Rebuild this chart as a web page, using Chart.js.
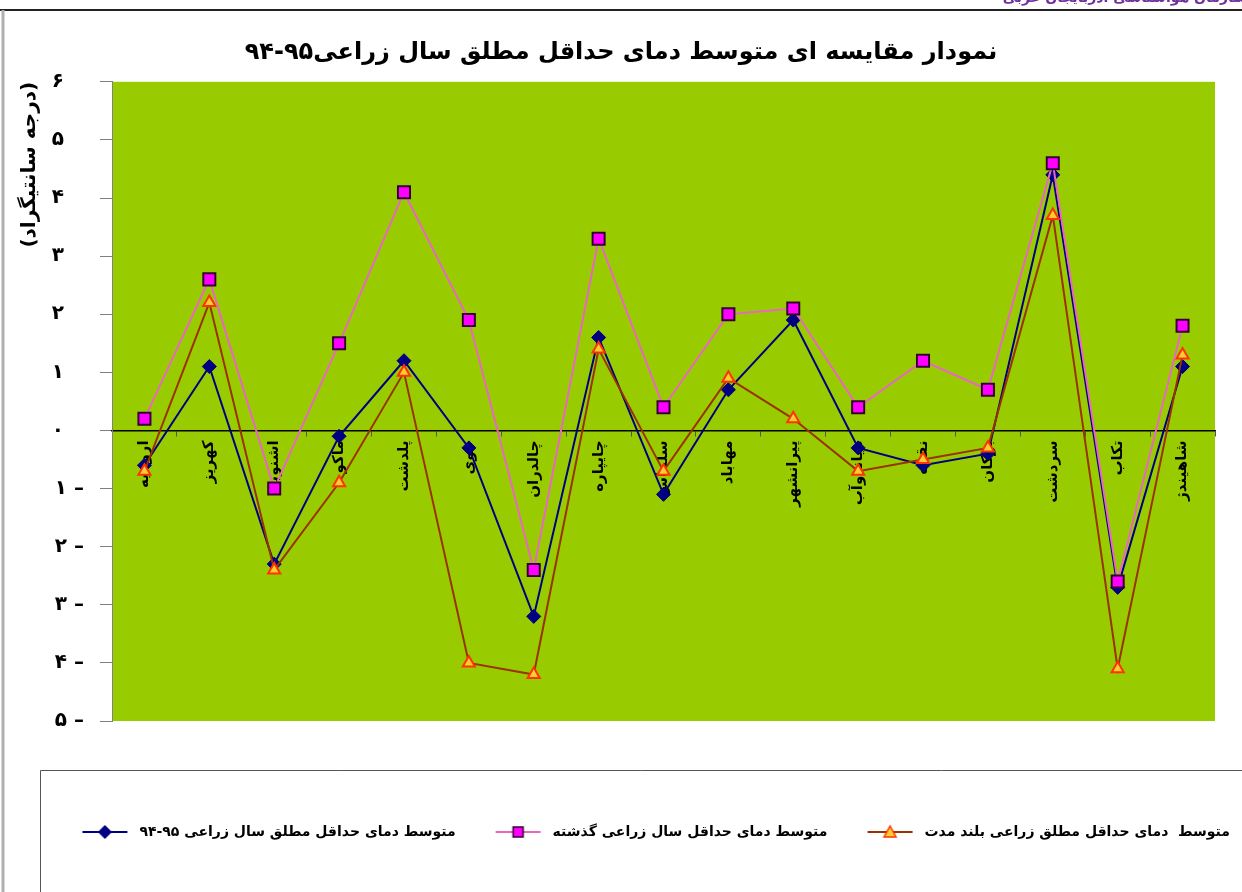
<!DOCTYPE html>
<html lang="fa">
<head>
<meta charset="utf-8">
<script src="https://cdn.jsdelivr.net/npm/chart.js@4.4.1/dist/chart.umd.min.js"></script>
<style>
	body { margin: 0; background: #fff; }
	#wrap { position: relative; width: 1242px; height: 892px; }
</style>
<title>نمودار مقایسه ای متوسط دمای حداقل مطلق</title>
</head>
<body>
<div id="wrap"><canvas id="myChart"></canvas></div>
<script>
	// ایستگاه ها
	var stations = ['ارومیه', 'کهریز', 'اشنویه', 'ماکو', 'پلدشت', 'خوی', 'چالدران', 'چایپاره', 'سلماس',
		'مهاباد', 'پیرانشهر', 'میاندوآب', 'نقده', 'بوکان', 'سردشت', 'تکاب', 'شاهیندژ'];
	// سال زراعی ۹۵-۹۴
	var values95 = [-0.6, 1.1, -2.3, -0.1, 1.2, -0.3, -3.2, 1.6, -1.1, 0.7, 1.9, -0.3, -0.6, -0.4, 4.4, -2.7, 1.1];
	// سال زراعی گذشته
	var valuesPrev = [0.2, 2.6, -1.0, 1.5, 4.1, 1.9, -2.4, 3.3, 0.4, 2.0, 2.1, 0.4, 1.2, 0.7, 4.6, -2.6, 1.8];
	// بلند مدت
	var valuesLong = [-0.7, 2.2, -2.4, -0.9, 1.0, -4.0, -4.2, 1.4, -0.7, 0.9, 0.2, -0.7, -0.5, -0.3, 3.7, -4.1, 1.3];
	// برچسب محور عمودی از -۵ تا ۶
	var yTickLabels = ['۵ –', '۴ –', '۳ –', '۲ –', '۱ –', '۰', '۱', '۲', '۳', '۴', '۵', '۶'];

	var seriesNames = ['متوسط دمای حداقل مطلق سال زراعی ۹۵-۹۴', 'متوسط دمای حداقل سال زراعی گذشته', 'متوسط  دمای حداقل مطلق زراعی بلند مدت'];
	var chartTitle = 'نمودار مقایسه ای متوسط دمای حداقل مطلق سال زراعی۹۵-۹۴';
	var fa = "'DejaVu Sans', sans-serif";

	// آیکن راهنما: خط + نشانگر
	function makeIcon(lineColor, shape, fill, stroke) {
		var c = document.createElement('canvas');
		c.width = 78; c.height = 20;
		var g = c.getContext('2d');
		g.strokeStyle = lineColor; g.lineWidth = 2;
		g.beginPath(); g.moveTo(28, 10); g.lineTo(73, 10); g.stroke();
		g.fillStyle = fill; g.strokeStyle = stroke; g.lineWidth = 1.5;
		var cx = 50.5, cy = 10;
		g.beginPath();
		if (shape == 'diamond') {
			g.moveTo(cx, cy - 6); g.lineTo(cx + 6, cy); g.lineTo(cx, cy + 6); g.lineTo(cx - 6, cy);
		} else if (shape == 'square') {
			g.rect(cx - 5, cy - 5, 10, 10);
		} else {
			g.moveTo(cx, cy - 6); g.lineTo(cx + 6, cy + 5); g.lineTo(cx - 6, cy + 5);
		}
		g.closePath(); g.fill(); g.stroke();
		return c;
	}
	var legendIcons = [
		makeIcon('#000080', 'diamond', '#000080', '#000080'),
		makeIcon('#E868C0', 'square', '#FF00FF', '#330033'),
		makeIcon('#993300', 'triangle', '#FFCC33', '#FF3300')
	];

	var decor = {
		id: 'decor',
		beforeDraw: function (chart) {
			var ctx = chart.ctx, a = chart.chartArea;
			ctx.save();
			ctx.fillStyle = '#fff';
			ctx.fillRect(0, 0, chart.width, chart.height);
			ctx.fillStyle = '#99CC00';
			ctx.fillRect(a.left, a.top, a.right - a.left, a.bottom - a.top);
			// قاب بالا و چپ
			ctx.strokeStyle = '#222'; ctx.lineWidth = 2;
			ctx.beginPath(); ctx.moveTo(0, 10); ctx.lineTo(chart.width, 10); ctx.stroke();
			ctx.strokeStyle = '#b0b0b0'; ctx.lineWidth = 3;
			ctx.beginPath(); ctx.moveTo(3, 10); ctx.lineTo(3, chart.height); ctx.stroke();
			// کادر راهنما
			ctx.strokeStyle = '#555'; ctx.lineWidth = 1;
			ctx.beginPath(); ctx.moveTo(40.5, chart.height); ctx.lineTo(40.5, 770.5); ctx.lineTo(chart.width, 770.5); ctx.stroke();
			// سربرگ بریده شده
			ctx.fillStyle = '#7030A0';
			ctx.font = 'bold 14px ' + fa;
			ctx.textAlign = 'right';
			ctx.textBaseline = 'alphabetic';
			ctx.fillText('سازمان هواشناسی آذربایجان غربی', 1247, 2);
			ctx.restore();
		}
	};

	var ctx = document.getElementById('myChart').getContext('2d');
	var myChart = new Chart(ctx, {
		type: 'line',
		data: {
			labels: stations,
			datasets: [{
				label: seriesNames[0],
				data: values95,
				borderColor: '#000080',
				backgroundColor: '#000080',
				borderWidth: 2,
				pointStyle: 'rectRot',
				pointRadius: 7,
				pointBorderWidth: 1,
				order: 2
			}, {
				label: seriesNames[1],
				data: valuesPrev,
				borderColor: '#E868C0',
				backgroundColor: '#FF00FF',
				borderWidth: 2,
				pointStyle: 'rect',
				pointRadius: 8.5,
				pointBorderColor: '#330033',
				pointBorderWidth: 2,
				order: 0
			}, {
				label: seriesNames[2],
				data: valuesLong,
				borderColor: '#993300',
				backgroundColor: '#FFCC33',
				borderWidth: 2,
				pointStyle: 'triangle',
				pointRadius: 7,
				pointBorderColor: '#FF3300',
				pointBorderWidth: 2,
				order: 1
			}]
		},
		options: {
			responsive: true,
			maintainAspectRatio: false,
			animation: false,
			layout: { padding: { top: 0, left: 0, right: 0, bottom: 43 } },
			scales: {
				x: {
					type: 'category',
					offset: true,
					position: { y: 0 },
					grid: { offset: true, drawOnChartArea: false, tickLength: 5, color: '#555' },
					border: { color: '#000', width: 1.5 },
					ticks: {
						autoSkip: false, minRotation: 90, maxRotation: 90, padding: 5,
						color: '#000', font: { family: fa, size: 15, weight: 'bold' }
					}
				},
				y: {
					min: -5,
					max: 6,
					afterFit: function (s) { s.width = 112; },
					grid: { drawOnChartArea: false, tickLength: 12, color: '#808080' },
					border: { color: '#808080', width: 1 },
					ticks: {
						stepSize: 1, padding: 16, color: '#000',
						font: { family: fa, size: 20, weight: 'bold' },
						callback: function (v) {
							v = Math.round(v);
							return yTickLabels[v + 5] + (v >= 0 ? '\u2002\u2002' : '');
						}
					},
					title: {
						display: true, text: '(درجه سانتیگراد)', align: 'end', color: '#000',
						font: { family: fa, size: 20, weight: 'bold' }, padding: { top: 18, bottom: 0 }
					}
				},
				yR: {
					type: 'linear',
					position: 'right',
					afterFit: function (s) { s.width = 27; },
					grid: { display: false },
					border: { display: false },
					ticks: { display: false }
				}
			},
			plugins: {
				tooltip: { enabled: false },
				title: {
					display: true, text: chartTitle, color: '#000',
					font: { family: fa, size: 24, weight: 'bold' },
					padding: { top: 38, bottom: 15 }
				},
				legend: {
					position: 'bottom',
					align: 'end',
					title: { display: true, text: '', font: { size: 10, lineHeight: 1 }, padding: { top: 82, bottom: 0 } },
					labels: {
						usePointStyle: true,
						pointStyleWidth: 78,
						padding: 12,
						color: '#000',
						font: { family: fa, size: 14, weight: 'bold' },
						generateLabels: function (chart) {
							var items = Chart.defaults.plugins.legend.labels.generateLabels(chart);
							items.sort(function (a, b) { return a.datasetIndex - b.datasetIndex; });
							items.forEach(function (it) { it.pointStyle = legendIcons[it.datasetIndex]; });
							return items;
						}
					}
				}
			}
		},
		plugins: [decor]
	});
</script>
</body>
</html>
